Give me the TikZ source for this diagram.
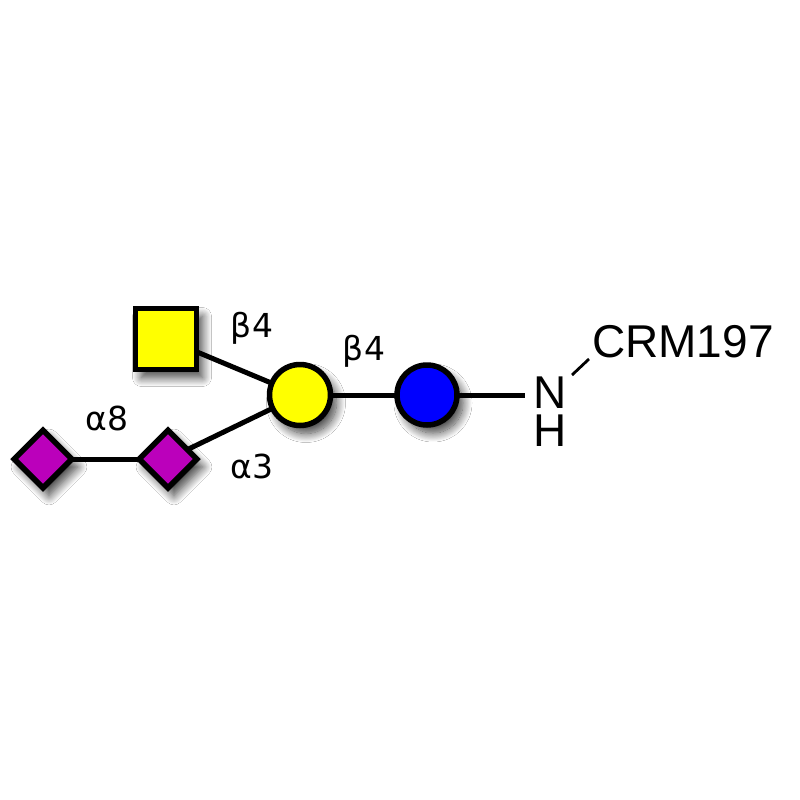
\documentclass[tikz,border=0pt]{standalone}
\usepackage{fontspec}
\setmainfont{Liberation Sans}
\newfontfamily\greekfont{DejaVu Sans}
\usetikzlibrary{shapes.geometric,shadows.blur}
\definecolor{snfgyellow}{RGB}{255,255,0}
\definecolor{snfgblue}{RGB}{0,0,255}
\definecolor{snfgpurple}{RGB}{187,0,187}
\tikzset{
  x=1pt,y=-1pt,
  sym/.style={draw=black,line width=5.5pt,inner sep=0pt,
    blur shadow={shadow xshift=6pt,shadow yshift=-8pt,shadow blur steps=16,shadow opacity=75,shadow blur radius=9pt}},
  sqsym/.style={sym,rectangle,fill=snfgyellow,minimum size=61pt},
  galsym/.style={sym,circle,fill=snfgyellow,minimum size=61pt},
  glcsym/.style={sym,circle,fill=snfgblue,minimum size=60pt},
  neusym/.style={sym,diamond,aspect=1,fill=snfgpurple,minimum size=60pt},
  link/.style={line width=5pt,black},
  lbl/.style={inner sep=0pt,font=\greekfont\fontsize{33}{33}\selectfont},
  atom/.style={inner sep=0pt,font=\fontsize{46}{38}\selectfont}
}
\begin{document}
\begin{tikzpicture}
\useasboundingbox[fill=white] (0,0) rectangle (800,800);
% links first (behind shapes)
\coordinate (sqc) at (166,339);
\coordinate (galc) at (300,395);
\coordinate (glcc) at (427,395);
\coordinate (d1c) at (43,459);
\coordinate (d2c) at (168,459);
\draw[link] (sqc) -- (galc);
\draw[link] (d2c) -- (galc);
\draw[link] (d1c) -- (d2c);
\draw[link] (galc) -- (glcc);
\coordinate (nlink) at (525,395);
\draw[link] (glcc) -- (nlink);
% symbols
\node[sqsym] (sq) at (sqc) {};
\node[galsym] (gal) at (galc) {};
\node[glcsym] (glc) at (glcc) {};
\node[neusym] (d1) at (d1c) {};
\node[neusym] (d2) at (d2c) {};
% labels
\node[lbl] (b4a) at (252,328) {β4};
\node[lbl] (b4b) at (364,351) {β4};
\node[lbl] (a8) at (107,418) {α8};
\node[lbl] (a3) at (252,466) {α3};
% aglycone
\node[atom,align=center,anchor=north] (NH) at (550,377) {N\\H};
\node[atom,anchor=base] (crm) at (683,357) {CRM197};
\coordinate (cl1) at (572,375);
\coordinate (cl2) at (589,359);
\draw[line width=2.8pt] (cl1) -- (cl2);
\end{tikzpicture}
\end{document}
